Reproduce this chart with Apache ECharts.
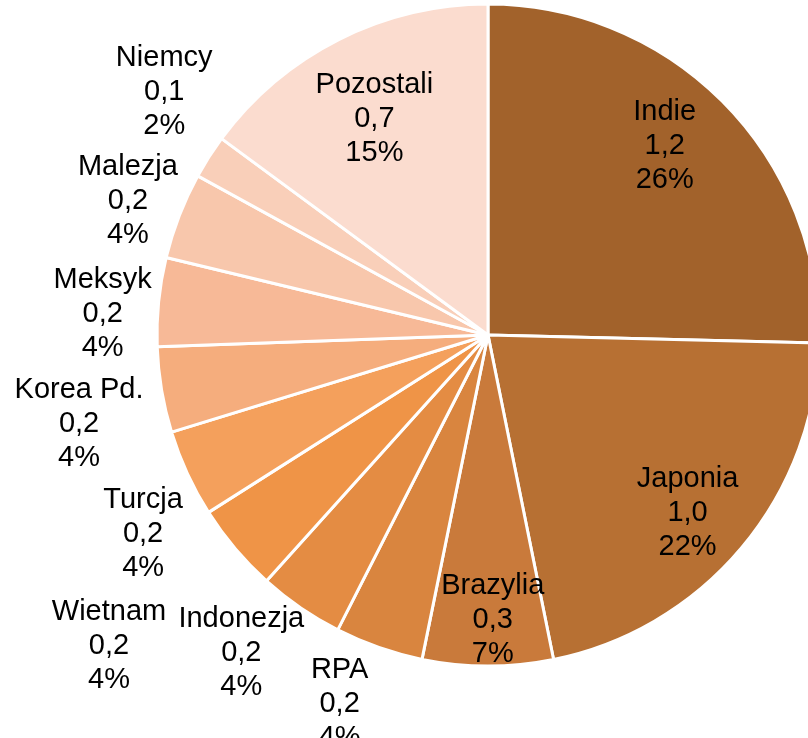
<!DOCTYPE html>
<html><head><meta charset="utf-8">
<script src="https://cdn.jsdelivr.net/npm/echarts@6/dist/echarts.min.js"></script>
<style>html,body{margin:0;padding:0;background:#fff}#c{width:808px;height:738px}</style>
</head><body><div id="c"></div>
<script>
const categories = ['Indie','Japonia','Brazylia','RPA','Indonezja','Wietnam','Turcja','Korea Pd.','Meksyk','Malezja','Niemcy','Pozostali'];
const values = [1.168, 0.986, 0.293, 0.198, 0.192, 0.199, 0.196, 0.192, 0.199, 0.194, 0.098, 0.685];
const colors = ['#A2622B','#B77033','#C97A3B','#D9853F','#E48C43','#EF9447','#F4A05C','#F5AD7D','#F7B997','#F8C7AC','#F9CFB9','#FBDCCF'];
// label placement: distance from centre and angular shift from slice mid-angle (degrees)
const labelRadius = [260, 266, 283, 396, 401, 489, 397, 418, 386, 385, 406, 246];
const labelShift = [-2.9, 1.4, -1, 2.75, 3.45, 1, -4.95, -2.4, -2.3, -0.4, 4.55, -0.7];

const CX = 488, CY = 335, R = 331;
const total = values.reduce((a, b) => a + b, 0);
const midAngles = [];
let acc = 0;
values.forEach(v => { midAngles.push((acc + v / 2) / total * 360); acc += v; });

const chart = echarts.init(document.getElementById('c'), null, {renderer: 'canvas'});
chart.setOption({
  animation: false,
  series: [{
    type: 'pie',
    center: [CX, CY],
    radius: R,
    startAngle: 90,
    clockwise: true,
    avoidLabelOverlap: false,
    percentPrecision: 0,
    itemStyle: {borderColor: '#ffffff', borderWidth: 3},
    label: {
      show: true,
      position: 'inside',
      color: '#000',
      fontFamily: '"Liberation Sans", Arial, sans-serif',
      fontSize: 29,
      lineHeight: 34,
      align: 'center',
      formatter: p => p.name + '\n' + p.value.toFixed(1).replace('.', ',') + '\n' + p.percent + '%'
    },
    labelLine: {show: false},
    labelLayout: function (params) {
      const i = params.dataIndex;
      const a = (midAngles[i] + labelShift[i]) * Math.PI / 180;
      return {
        x: CX + labelRadius[i] * Math.sin(a),
        y: CY - labelRadius[i] * Math.cos(a) + 2,
        align: 'center',
        verticalAlign: 'middle'
      };
    },
    emphasis: {disabled: true},
    data: categories.map((c, i) => ({name: c, value: values[i], itemStyle: {color: colors[i]}}))
  }]
});
</script></body></html>
